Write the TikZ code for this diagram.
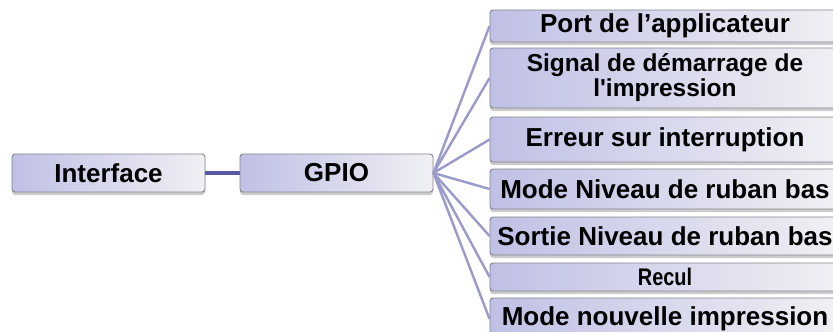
\documentclass[tikz,border=0pt]{standalone}
\usepackage{fontspec}
\setmainfont{Liberation Sans}
\usetikzlibrary{shadows}
\definecolor{boxleft}{HTML}{C0C0E6}
\definecolor{boxright}{HTML}{F0F0F4}
\definecolor{boxborder}{HTML}{85858F}
\definecolor{fanline}{HTML}{9A9ACB}
\definecolor{mainline}{HTML}{5757A6}
\tikzset{
  box/.style={rectangle, rounded corners=3pt, draw=boxborder, line width=0.9pt,
    left color=boxleft, right color=boxright, inner sep=0pt, align=center,
    font=\bfseries\fontsize{26}{27}\selectfont,
    drop shadow={shadow xshift=0pt, shadow yshift=-3pt, opacity=0.2, fill=black}},
  fan/.style={draw=fanline, line width=2.4pt},
  link/.style={draw=mainline, line width=3.8pt}
}
\begin{document}
\begin{tikzpicture}[x=1pt,y=-1pt]
\useasboundingbox (0,0) rectangle (833,332);
\clip (0,0) rectangle (833,332);
\fill[white] (0,0) rectangle (833,332);
\node[box, minimum width=193pt, minimum height=38pt] (iface) at (108.5,173) {Interface};
\node[box, minimum width=193pt, minimum height=38pt] (gpio) at (336.5,173) {GPIO};
\draw[link] (iface.east) -- (gpio.west);
\node[box, minimum width=350pt, minimum height=32pt] (port) at (665,26) {Port de l’applicateur};
\node[box, minimum width=350pt, minimum height=60pt, font=\bfseries\fontsize{24.5}{25}\selectfont] (signal) at (665,78) {Signal de démarrage de\\l\textquotesingle impression};
\node[box, minimum width=350pt, minimum height=45pt] (erreur) at (665,139.5) {Erreur sur interruption};
\node[box, minimum width=350pt, minimum height=40pt] (modeniv) at (665,189) {Mode Niveau de ruban bas};
\node[box, minimum width=350pt, minimum height=38pt] (sortie) at (665,236) {Sortie Niveau de ruban bas};
\node[box, minimum width=350pt, minimum height=28pt, font=\bfseries\fontsize{24}{25}\selectfont] (recul) at (665,277) {\scalebox{0.83}[1]{Recul}};
\node[box, minimum width=350pt, minimum height=42pt] (modenouv) at (665,319) {Mode nouvelle impression};
\foreach \t in {port,signal,erreur,modeniv,sortie,recul,modenouv}
  \draw[fan] (gpio.east) -- (\t.west);
\end{tikzpicture}
\end{document}
